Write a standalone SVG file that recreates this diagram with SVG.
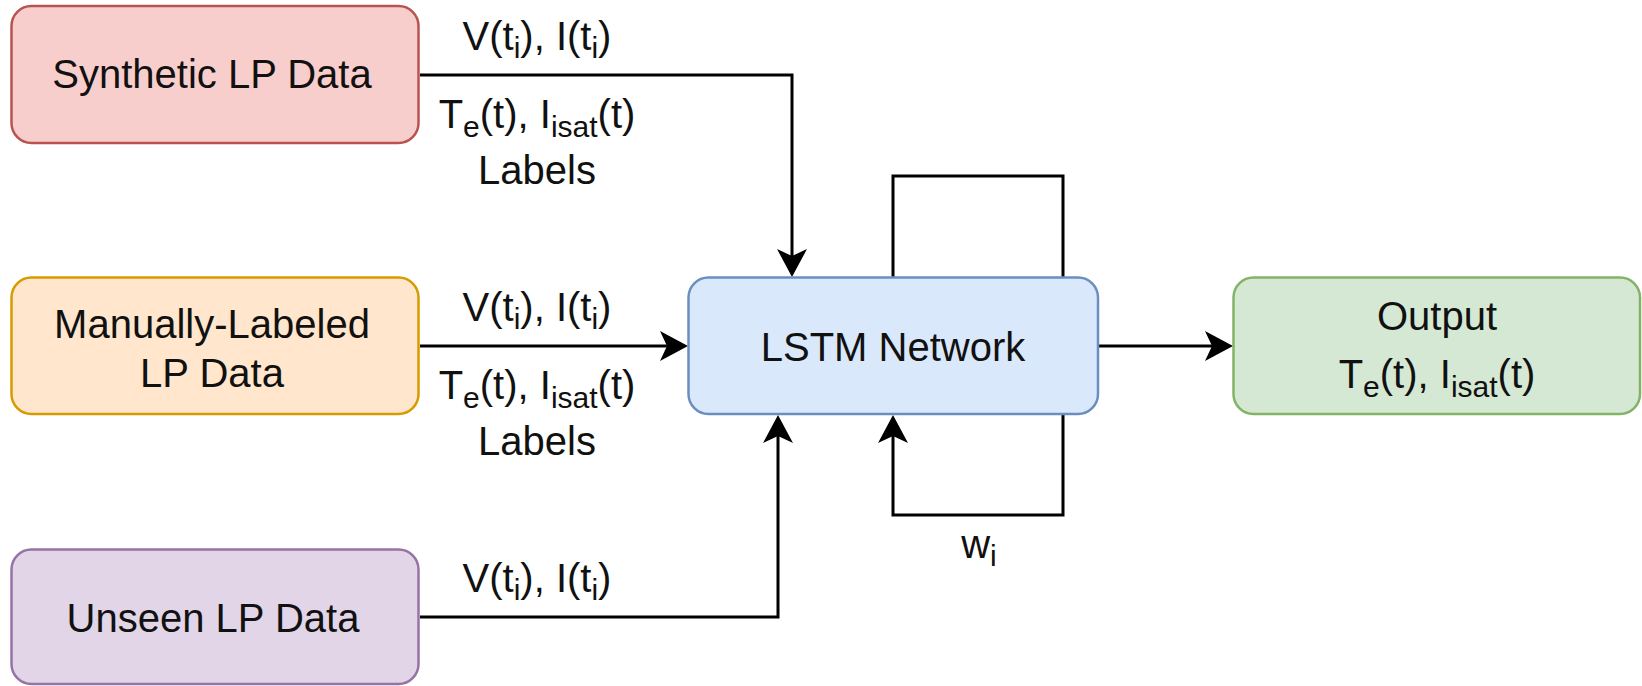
<svg xmlns="http://www.w3.org/2000/svg" width="1642" height="686" viewBox="0 0 1642 686">
<defs>
<style>
text{font-family:"Liberation Sans",Arial,Helvetica,sans-serif;font-size:40px;fill:#111;text-anchor:middle}
.sub{font-size:30px}
.box{stroke-width:2.5}
.wire{fill:none;stroke:#000;stroke-width:3}
</style>
<marker id="arr" viewBox="0 0 28 30" refX="7" refY="15" markerWidth="28" markerHeight="30" markerUnits="userSpaceOnUse" orient="auto">
<path d="M0,0 L28,15 L0,30 L7,15 Z" fill="#000"/>
</marker>
</defs>
<rect width="1642" height="686" fill="#fff"/>
<g id="connectors">
<path class="wire" d="M420,75 H792 V256" marker-end="url(#arr)"/>
<path class="wire" d="M420,346 H667" marker-end="url(#arr)"/>
<path class="wire" d="M420,617 H778 V436" marker-end="url(#arr)"/>
<path class="wire" d="M1098,346 H1212" marker-end="url(#arr)"/>
<path class="wire" d="M1063,277 V176 H893 V277"/>
<path class="wire" d="M1063,414 V515 H893 V436" marker-end="url(#arr)"/>
<text x="537" y="50">V(t<tspan class="sub" dy="8">i</tspan><tspan dy="-8">), I(t</tspan><tspan class="sub" dy="8">i</tspan><tspan dy="-8">)</tspan></text>
<text x="537" y="128">T<tspan class="sub" dy="9">e</tspan><tspan dy="-9">(t), I</tspan><tspan class="sub" dy="9">isat</tspan><tspan dy="-9">(t)</tspan></text>
<text x="537" y="184">Labels</text>
<text x="537" y="321">V(t<tspan class="sub" dy="8">i</tspan><tspan dy="-8">), I(t</tspan><tspan class="sub" dy="8">i</tspan><tspan dy="-8">)</tspan></text>
<text x="537" y="399">T<tspan class="sub" dy="9">e</tspan><tspan dy="-9">(t), I</tspan><tspan class="sub" dy="9">isat</tspan><tspan dy="-9">(t)</tspan></text>
<text x="537" y="455">Labels</text>
<text x="537" y="592">V(t<tspan class="sub" dy="8">i</tspan><tspan dy="-8">), I(t</tspan><tspan class="sub" dy="8">i</tspan><tspan dy="-8">)</tspan></text>
<text x="979" y="558">w<tspan class="sub" dy="8">i</tspan></text>
</g>
<g id="synthetic">
<rect class="box" x="11.5" y="6" width="407" height="137" rx="20" fill="#f8cecc" stroke="#b85450"/>
<text x="212" y="88">Synthetic LP Data</text>
</g>
<g id="manual">
<rect class="box" x="11.5" y="277.5" width="407" height="136.5" rx="20" fill="#ffe6cc" stroke="#d79b00"/>
<text x="212" y="338">Manually-Labeled</text>
<text x="212" y="387">LP Data</text>
</g>
<g id="unseen">
<rect class="box" x="11.5" y="549.5" width="407" height="134.5" rx="20" fill="#e1d5e7" stroke="#9673a6"/>
<text x="213" y="632">Unseen LP Data</text>
</g>
<g id="lstm">
<rect class="box" x="688.5" y="277.5" width="409.5" height="136.5" rx="20" fill="#dae8fc" stroke="#6c8ebf"/>
<text x="893" y="361">LSTM Network</text>
</g>
<g id="output">
<rect class="box" x="1233.5" y="277.5" width="406.5" height="136.5" rx="20" fill="#d5e8d4" stroke="#82b366"/>
<text x="1437" y="330">Output</text>
<text x="1437" y="388">T<tspan class="sub" dy="9">e</tspan><tspan dy="-9">(t), I</tspan><tspan class="sub" dy="9">isat</tspan><tspan dy="-9">(t)</tspan></text>
</g>
</svg>
